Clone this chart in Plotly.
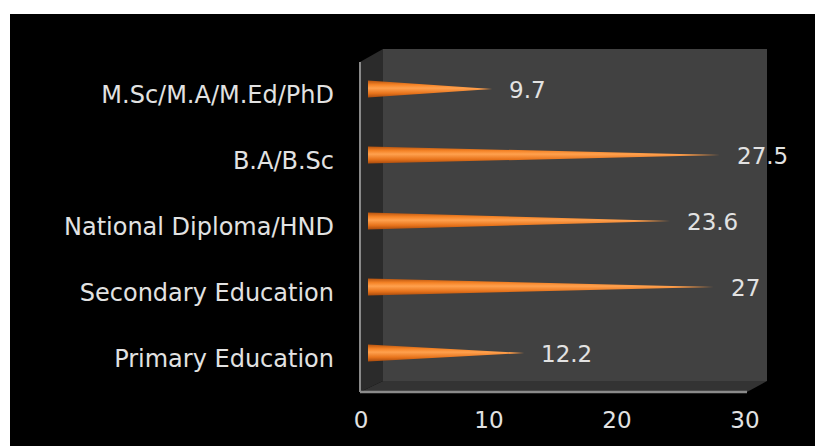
import plotly.graph_objects as go
import math

# ---- data ----
categories = ["Primary Education", "Secondary Education", "National Diploma/HND",
              "B.A/B.Sc", "M.Sc/M.A/M.Ed/PhD"]
values = [12.2, 27, 23.6, 27.5, 9.7]
tick_vals = [0, 10, 20, 30]

W, H = 816, 446
def px(x):
    return x / W
def py(y):
    return 1 - y / H

FONT = "DejaVu Sans"
TXT = "#e2e2e2"

fig = go.Figure()

# cones drawn on the (hidden) depth-offset axes x2/y2
half_h = 0.13   # half thickness of cone base in category units
cap = 0.38      # rounded cap extent in value units
for i, (c, v) in enumerate(zip(categories, values)):
    xs, ys = [], []
    n = 14
    for k in range(n + 1):
        a = math.pi / 2 + math.pi * k / n
        xs.append(cap * math.cos(a))
        ys.append(i + half_h * math.sin(a))
    xs.append(v)
    ys.append(i)
    xs.append(xs[0])
    ys.append(ys[0])
    fig.add_trace(go.Scatter(
        x=xs, y=ys, xaxis="x2", yaxis="y2", mode="lines",
        line=dict(width=0, color="#e87722"), fill="toself",
        fillgradient=dict(type="vertical",
                          colorscale=[[0, "#a84a0c"], [0.25, "#e8741c"],
                                      [0.55, "#ffa14e"], [0.75, "#f58326"],
                                      [1, "#b5520e"]]),
        hoverinfo="skip", showlegend=False))

# value labels
for i, v in enumerate(values):
    fig.add_annotation(x=v, y=i, xref="x2", yref="y2", text=f"{v:g}",
                       showarrow=False, xanchor="left", xshift=15, yshift=-1,
                       font=dict(family=FONT, size=23, color=TXT))

# invisible trace on main axes so category axis shows
fig.add_trace(go.Scatter(x=[None] * len(categories), y=categories,
                         xaxis="x", yaxis="y", mode="markers",
                         showlegend=False, hoverinfo="skip"))

shapes = []
# black background
shapes.append(dict(type="rect", xref="paper", yref="paper", layer="below",
                   x0=px(10), x1=px(815), y0=py(446), y1=py(14),
                   fillcolor="black", line=dict(width=0)))
# back wall
shapes.append(dict(type="rect", xref="paper", yref="paper", layer="below",
                   x0=px(383), x1=px(767), y0=py(381), y1=py(49),
                   fillcolor="#414141", line=dict(width=0)))
def path(pts):
    return "M " + " L ".join(f"{px(a)},{py(b)}" for a, b in pts) + " Z"
# side wall
shapes.append(dict(type="path", xref="paper", yref="paper", layer="below",
                   path=path([(360, 62), (383, 49), (383, 381), (360, 392)]),
                   fillcolor="#2b2b2b", line=dict(width=0)))
# floor
shapes.append(dict(type="path", xref="paper", yref="paper", layer="below",
                   path=path([(360, 392), (383, 381), (767, 381), (747, 392)]),
                   fillcolor="#333333", line=dict(width=0)))
# axis lines
shapes.append(dict(type="line", xref="paper", yref="paper", layer="below",
                   x0=px(360), x1=px(360), y0=py(392), y1=py(62),
                   line=dict(color="#8a8a8a", width=2)))
shapes.append(dict(type="line", xref="paper", yref="paper", layer="below",
                   x0=px(360), x1=px(747), y0=py(392), y1=py(392),
                   line=dict(color="#8a8a8a", width=2.5)))

fig.update_layout(
    width=W, height=H,
    margin=dict(l=0, r=0, t=0, b=0),
    paper_bgcolor="white", plot_bgcolor="rgba(0,0,0,0)",
    shapes=shapes,
    xaxis=dict(domain=[px(361), px(745)], range=[0, 30], tickvals=tick_vals,
               showgrid=False, zeroline=False, showline=False, ticks="",
               ticklabelstandoff=12, anchor="y", automargin=False,
               tickfont=dict(family=FONT, size=23, color=TXT), fixedrange=True),
    yaxis=dict(domain=[py(392), py(62)], type="category",
               categoryorder="array", categoryarray=categories,
               range=[-0.5, 4.5], showgrid=False, zeroline=False,
               showline=False, ticks="", ticklabelstandoff=26,
               anchor="x", automargin=False,
               tickfont=dict(family=FONT, size=24, color=TXT), fixedrange=True),
    xaxis2=dict(domain=[px(368), px(752)], range=[0, 30], visible=False,
                anchor="y2"),
    yaxis2=dict(domain=[py(386), py(56)], range=[-0.5, 4.5], visible=False,
                anchor="x2"),
)

fig.write_html("out.html")
